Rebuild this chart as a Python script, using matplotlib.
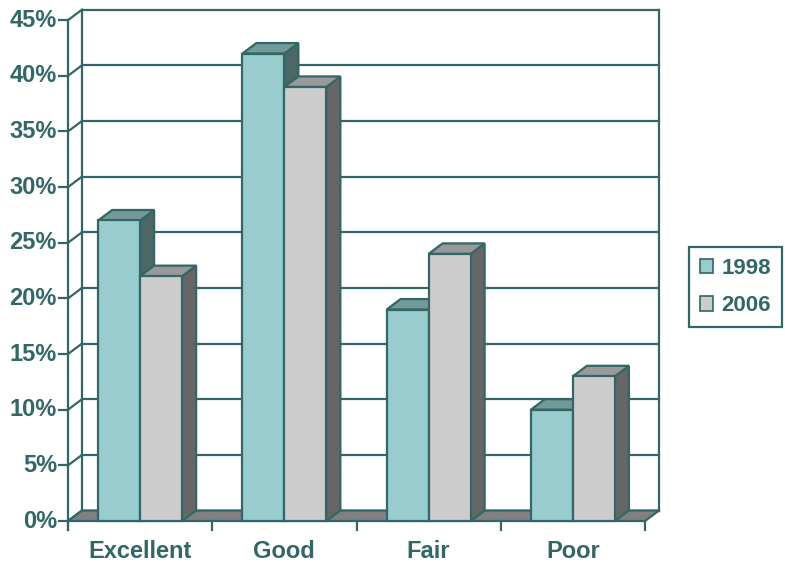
import numpy as np
import matplotlib.pyplot as plt
from matplotlib.patches import Polygon, Patch

categories = ['Excellent', 'Good', 'Fair', 'Poor']
years = ['1998', '2006']
vals_1998 = [27, 42, 19, 10]
vals_2006 = [22, 39, 24, 13]
yticks = [0, 5, 10, 15, 20, 25, 30, 35, 40, 45]

teal = '#336666'
front_cols = ['#99CCCC', '#CCCCCC']
top_cols = ['#739999', '#999999']
side_cols = ['#4D6666', '#666666']

plt.rcParams['font.family'] = ['Liberation Sans', 'DejaVu Sans']

fig = plt.figure(figsize=(7.85, 5.62), dpi=100)
ax = fig.add_axes([0, 0, 1, 1])
# data units: one category = 144.25 px, 1% = 11.13 px
px_x = 144.25
px_y = 11.13
ax.set_xlim(-68 / px_x, (785 - 68) / px_x)
ax.set_ylim(-(562 - 521) / px_y, 521 / px_y)
ax.axis('off')

dx = 14 / px_x      # depth offset
dy = 10.5 / px_y
n = len(categories)
ymax = yticks[-1]
lw = 1.6
tick_x = 9 / px_x
tick_y = 9 / px_y

# floor
ax.add_patch(Polygon([(0, 0), (n, 0), (n + dx, dy), (dx, dy)], closed=True,
                     facecolor='#808080', edgecolor=teal, lw=lw, zorder=1))

# back wall grid lines + left wall
for v in yticks:
    ax.plot([dx, n + dx], [v + dy, v + dy], color=teal, lw=lw, zorder=0.5)
    ax.plot([0, dx], [v, v + dy], color=teal, lw=lw, zorder=0.5)
    ax.plot([-tick_x, 0], [v, v], color=teal, lw=lw, zorder=0.5)
    ax.text(-11 / px_x, v, f'{v}%', ha='right', va='center', fontsize=17,
            fontweight='bold', color=teal)

ax.plot([0, 0], [-tick_y, ymax], color=teal, lw=lw, zorder=0.5)
ax.plot([dx, dx], [dy, ymax + dy], color=teal, lw=lw, zorder=0.5)
ax.plot([n + dx, n + dx], [dy, ymax + dy], color=teal, lw=lw, zorder=0.5)

# bottom ticks
for i in range(n + 1):
    ax.plot([i, i], [0, -tick_y], color=teal, lw=lw, zorder=1)

# bars
bw = 42 / px_x
series = [vals_1998, vals_2006]
for j, vals in enumerate(series):
    for i, v in enumerate(vals):
        xl = i + 0.5 - bw + j * bw
        xr = xl + bw
        z = 2 + j
        front = Polygon([(xl, 0), (xr, 0), (xr, v), (xl, v)], closed=True,
                        facecolor=front_cols[j], edgecolor=teal, lw=lw, zorder=z)
        top = Polygon([(xl, v), (xl + dx, v + dy), (xr + dx, v + dy), (xr, v)],
                      closed=True, facecolor=top_cols[j], edgecolor=teal, lw=lw, zorder=z)
        side = Polygon([(xr, 0), (xr, v), (xr + dx, v + dy), (xr + dx, dy)],
                       closed=True, facecolor=side_cols[j], edgecolor=teal, lw=lw, zorder=z)
        for p in (side, top, front):
            ax.add_patch(p)

for i, c in enumerate(categories):
    ax.text(i + 0.5, -30 / px_y, c, ha='center', va='center', fontsize=17,
            fontweight='bold', color=teal)

handles = [Patch(facecolor=front_cols[k], edgecolor=teal, lw=1.2) for k in range(2)]
leg = fig.legend(handles, years, loc='center left', bbox_to_anchor=(689 / 785, 1 - 287 / 562),
                 frameon=True, fancybox=False, framealpha=1, edgecolor=teal,
                 handlelength=0.6, handleheight=0.6, handletextpad=0.35,
                 labelspacing=0.75, borderpad=0.5, borderaxespad=0,
                 prop={'size': 16, 'weight': 'bold'}, labelcolor=teal)
leg.get_frame().set_linewidth(1.6)

fig.savefig('out.png', dpi=100)
